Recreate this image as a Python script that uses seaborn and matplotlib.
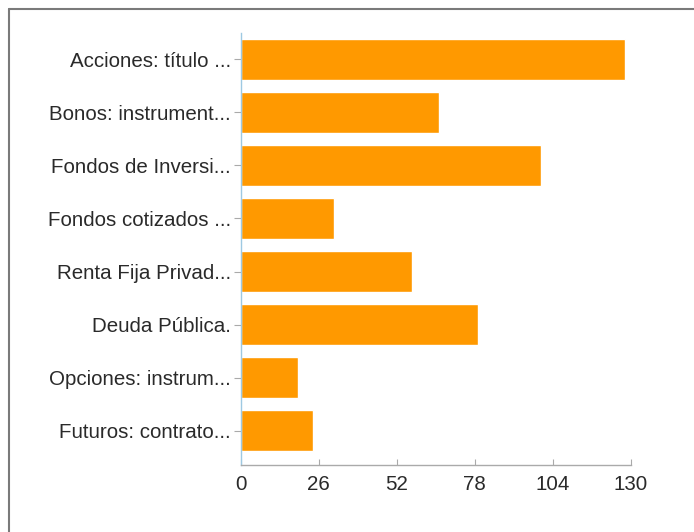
import pandas as pd
import matplotlib.pyplot as plt
import seaborn as sns
from matplotlib.lines import Line2D

# data
categorias = [
    'Acciones: título ...', 'Bonos: instrument...', 'Fondos de Inversi...',
    'Fondos cotizados ...', 'Renta Fija Privad...', 'Deuda Pública.',
    'Opciones: instrum...', 'Futuros: contrato...'
]
respuestas = [128, 66, 100, 31, 57, 79, 19, 24]
ticks_x = [0, 26, 52, 78, 104, 130]

df = pd.DataFrame({'cat': categorias, 'n': respuestas})

sns.set_style('white')
plt.rcParams['font.family'] = ['Liberation Sans', 'DejaVu Sans']

fig = plt.figure(figsize=(6.94, 5.32), dpi=100)
ax = fig.add_axes([0.347, 0.126, 0.562, 0.812])

sns.barplot(data=df, y='cat', x='n', color='#ff9900', saturation=1,
            width=0.78, ax=ax, orient='h')

ax.set_xlim(0, 130)
ax.set_ylim(len(categorias) - 0.5 + 0.15, -0.5)
ax.set_xticks(ticks_x)
ax.set_xlabel('')
ax.set_ylabel('')

for s in ['top', 'right']:
    ax.spines[s].set_visible(False)
ax.spines['left'].set_color('#9ec9e2')
ax.spines['bottom'].set_color('#aaaaaa')
ax.spines['left'].set_linewidth(1)
ax.spines['bottom'].set_linewidth(1)

ax.tick_params(axis='y', length=5, color='#aaaaaa', labelsize=14.8,
               labelcolor='#2a2a2a', pad=2, left=True)
ax.tick_params(axis='x', length=4, direction='in', color='#aaaaaa',
               labelsize=14.8, labelcolor='#2a2a2a', pad=7, bottom=True)

# grey frame on the top and left edge of the image
fig.add_artist(Line2D([0.0135, 0.0135], [0, 0.983], transform=fig.transFigure,
                      color='#7a7a7a', lw=1.5))
fig.add_artist(Line2D([0.0135, 1.0], [0.983, 0.983], transform=fig.transFigure,
                      color='#7a7a7a', lw=1.5))

fig.savefig('out.png', dpi=100, facecolor='white')
